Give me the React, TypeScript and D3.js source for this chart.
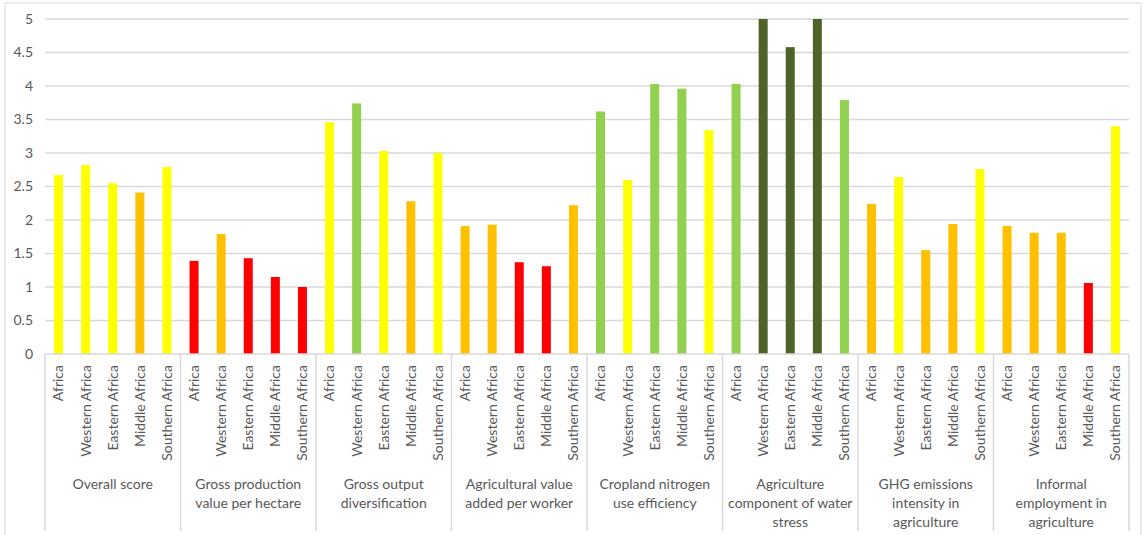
import React from "react";
import * as d3 from "d3";

const regions = ["Africa", "Western Africa", "Eastern Africa", "Middle Africa", "Southern Africa"];
const groups = [
  ["Overall score"],
  ["Gross production", "value per hectare"],
  ["Gross output", "diversification"],
  ["Agricultural value", "added per worker"],
  ["Cropland nitrogen", "use efficiency"],
  ["Agriculture", "component of water", "stress"],
  ["GHG emissions", "intensity in", "agriculture"],
  ["Informal", "employment in", "agriculture"],
];
const overallScore = [2.67, 2.82, 2.55, 2.41, 2.79];
const grossProduction = [1.39, 1.79, 1.43, 1.15, 1.0];
const grossOutput = [3.46, 3.74, 3.03, 2.28, 3.0];
const valueAdded = [1.91, 1.93, 1.37, 1.31, 2.22];
const nitrogen = [3.62, 2.6, 4.03, 3.96, 3.34];
const waterStress = [4.03, 5.0, 4.58, 5.0, 3.79];
const ghg = [2.24, 2.64, 1.55, 1.94, 2.76];
const informal = [1.91, 1.81, 1.81, 1.06, 3.4];
const seriesValues = [overallScore, grossProduction, grossOutput, valueAdded, nitrogen, waterStress, ghg, informal];
// colour class per bar: Y yellow, O orange, R red, G light green, D dark green
const colourClasses = [
  "YYYOY",
  "RORRR",
  "YGYOY",
  "OORRO",
  "GYGGY",
  "GDDDG",
  "OYOOY",
  "OOORY",
];
const yTicks = [0, 0.5, 1, 1.5, 2, 2.5, 3, 3.5, 4, 4.5, 5];

const palette: Record<string, string> = {
  Y: "#FFFF00",
  O: "#FFC000",
  R: "#FF0000",
  G: "#92D050",
  D: "#4F6228",
};

const W = 1144;
const H = 535;
const left = 45;
const right = 1129;
const top = 19;
const bottom = 354;
const font = "Lato, 'Open Sans', sans-serif";
const textColor = "#595959";

export default function App() {
  const y = d3.scaleLinear().domain([0, 5]).range([bottom, top]);
  const xGroup = d3.scaleBand<number>().domain(d3.range(groups.length)).range([left, right]).padding(0);
  const xInner = d3.scaleBand<number>().domain(d3.range(regions.length)).range([0, xGroup.bandwidth()]).padding(0);
  const barW = 9;

  return (
    <svg width={W} height={H} style={{ position: "absolute", left: 0, top: 0, background: "#fff" }}>
      <rect x={5} y={3} width={1136} height={540} fill="#fff" stroke="#d9d9d9" strokeWidth={1} />
      {yTicks.map((t) => (
        <g key={t}>
          {t > 0 && <line x1={left} x2={right} y1={y(t)} y2={y(t)} stroke="#d9d9d9" strokeWidth={1.5} />}
          <text x={33} y={y(t)} dy="0.35em" textAnchor="end" fontFamily={font} fontSize={14} fill={textColor}>
            {t}
          </text>
        </g>
      ))}
      {seriesValues.map((vals, gi) =>
        vals.map((v, ri) => {
          const cx = xGroup(gi)! + xInner(ri)! + xInner.bandwidth() / 2;
          return (
            <rect
              key={`${gi}-${ri}`}
              x={cx - barW / 2}
              y={y(v)}
              width={barW}
              height={y(0) - y(v)}
              fill={palette[colourClasses[gi][ri]]}
            />
          );
        })
      )}
      <line x1={left} x2={right} y1={bottom} y2={bottom} stroke="#d9d9d9" strokeWidth={1.5} />
      {d3.range(groups.length + 1).map((i) => {
        const x = i < groups.length ? xGroup(i)! : right;
        return <line key={i} x1={x} x2={x} y1={bottom} y2={531} stroke="#d9d9d9" strokeWidth={1.5} />;
      })}
      {groups.map((g, gi) => (
        <g key={gi}>
          {regions.map((r, ri) => {
            const cx = xGroup(gi)! + xInner(ri)! + xInner.bandwidth() / 2;
            return (
              <text
                key={r}
                transform={`translate(${cx},${365}) rotate(-90)`}
                dy="0.35em"
                textAnchor="end"
                fontFamily={font}
                fontSize={14}
                fill={textColor}
              >
                {r}
              </text>
            );
          })}
          {g.map((line, li) => (
            <text
              key={li}
              x={xGroup(gi)! + xGroup.bandwidth() / 2}
              y={484 + li * 19}
              dy="0.35em"
              textAnchor="middle"
              fontFamily={font}
              fontSize={14}
              fill={textColor}
            >
              {line}
            </text>
          ))}
        </g>
      ))}
    </svg>
  );
}
